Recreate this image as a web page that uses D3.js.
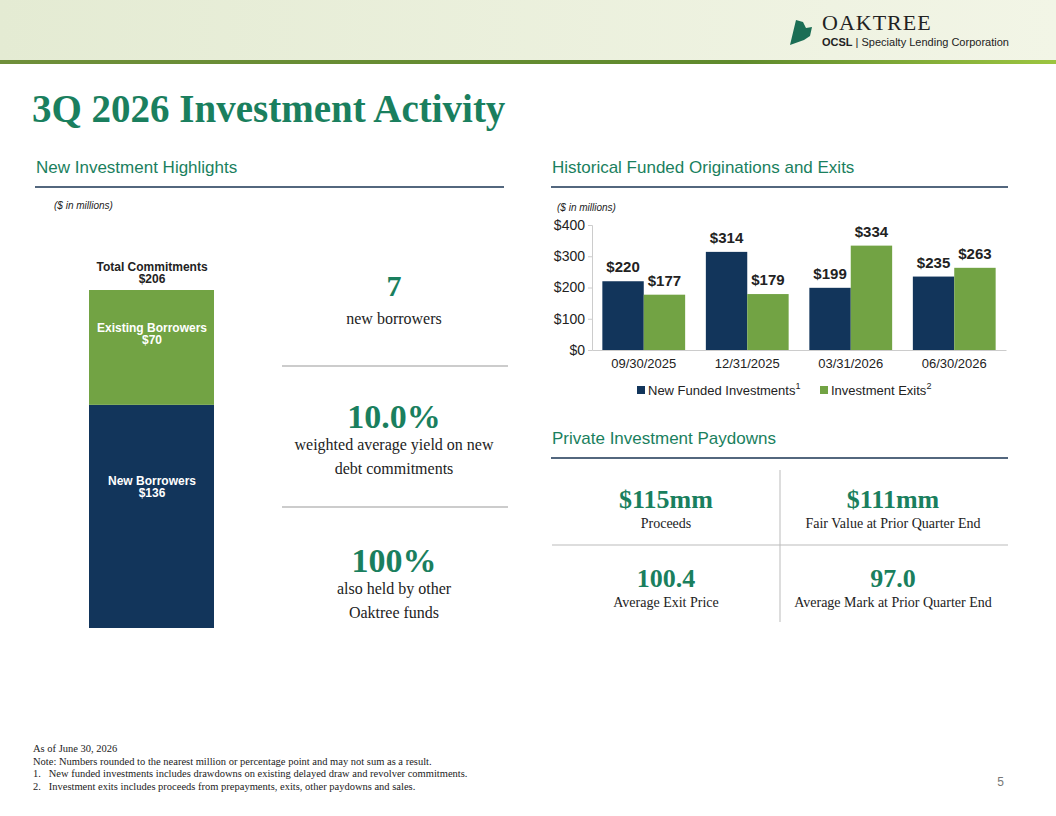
<!DOCTYPE html>
<html><head><meta charset="utf-8">
<script src="https://cdn.jsdelivr.net/npm/d3@7"></script>
<style>body{margin:0;background:#fff}svg{display:block}</style>
</head><body>
<svg id="c" width="1056" height="816"></svg>
<script>
const quarters=["09/30/2025","12/31/2025","03/31/2026","06/30/2026"];
const newFunded=[220,314,199,235];
const exits=[177,179,334,263];
const yTicks=[0,100,200,300,400];
const stackLabels=["New Borrowers","Existing Borrowers"];
const stackValues=[136,70];
const totalCommit=206;
const navy="#12355B", green="#72A344", teal="#1A7F5E";
const svg=d3.select("#c");
const F="Arial, Liberation Sans, sans-serif", S="Liberation Serif, Times New Roman, serif";
const g0=svg.append("defs").append("linearGradient").attr("id","bg");
g0.append("stop").attr("offset","0").attr("stop-color","#e4ebd3");
g0.append("stop").attr("offset","1").attr("stop-color","#f2f5e6");
svg.append("rect").attr("width",1056).attr("height",60).attr("fill","url(#bg)");
const g1=svg.select("defs").append("linearGradient").attr("id","gb");
g1.append("stop").attr("offset","0").attr("stop-color","#6f8f3a");
g1.append("stop").attr("offset","0.7").attr("stop-color","#5f8a2c");
g1.append("stop").attr("offset","1").attr("stop-color","#9cc540");
svg.append("rect").attr("y",60).attr("width",1056).attr("height",4).attr("fill","url(#gb)");
svg.append("path").attr("d","M790,45 L796,20 L803,22 L806,28 L812,27 L810,36 L804,40 Z").attr("fill","#1b6e55");
svg.append("text").attr("x",822).attr("y",30).attr("font-family",S).attr("font-size",22).attr("fill","#222").attr("letter-spacing",1).text("OAKTREE");
svg.append("text").attr("x",822).attr("y",46).attr("font-family",F).attr("font-size",11).attr("fill","#222").html("<tspan font-weight='bold'>OCSL</tspan> | Specialty Lending Corporation");
svg.append("text").attr("x",32).attr("y",122).attr("font-family",S).attr("font-weight","bold").attr("font-size",39).attr("fill",teal).text("3Q 2026 Investment Activity");
function header(x,y,w,t){svg.append("text").attr("x",x).attr("y",y).attr("font-family",F).attr("font-size",17).attr("fill",teal).text(t);
 svg.append("line").attr("x1",x-1).attr("x2",x+w).attr("y1",y+14).attr("y2",y+14).attr("stroke","#1a3553").attr("stroke-width",1.5);}
header(36,173,468,"New Investment Highlights");
header(552,173,456,"Historical Funded Originations and Exits");
header(552,444,456,"Private Investment Paydowns");
svg.append("text").attr("x",54).attr("y",209).attr("font-family",F).attr("font-size",10).attr("font-style","italic").attr("fill","#222").text("($ in millions)");
svg.append("text").attr("x",557).attr("y",211).attr("font-family",F).attr("font-size",10).attr("font-style","italic").attr("fill","#222").text("($ in millions)");
const ys=d3.scaleLinear().domain([0,totalCommit]).range([628,290]);
let acc=0;
stackValues.forEach((v,i)=>{const y0=ys(acc),y1=ys(acc+v);acc+=v;
 svg.append("rect").attr("x",89).attr("width",125).attr("y",y1).attr("height",y0-y1).attr("fill",i?green:navy);
 const t=svg.append("text").attr("y",i?y1+42:y1+80).attr("text-anchor","middle").attr("font-family",F).attr("font-weight","bold").attr("font-size",12).attr("fill","#fff");
 t.append("tspan").attr("x",152).text(stackLabels[i]);t.append("tspan").attr("x",152).attr("dy",12).text("$"+v);});
const tt=svg.append("text").attr("text-anchor","middle").attr("font-family",F).attr("font-weight","bold").attr("font-size",12).attr("fill","#222");
tt.append("tspan").attr("x",152).attr("y",271).text("Total Commitments");tt.append("tspan").attr("x",152).attr("dy",12).text("$"+totalCommit);
function big(x,y,v,lines,fs){svg.append("text").attr("x",x).attr("y",y).attr("text-anchor","middle").attr("font-family",S).attr("font-weight","bold").attr("font-size",fs).attr("fill",teal).text(v);
 lines.forEach((l,i)=>svg.append("text").attr("x",x).attr("y",y+28+i*24-(fs>30?6:0)).attr("text-anchor","middle").attr("font-family",S).attr("font-size",16).attr("fill","#222").text(l));}
big(394,296,"7",["new borrowers"],30);
big(394,428,"10.0%",["weighted average yield on new","debt commitments"],34);
big(394,572,"100%",["also held by other","Oaktree funds"],34);
[366,507].forEach(y=>svg.append("line").attr("x1",282).attr("x2",508).attr("y1",y).attr("y2",y).attr("stroke","#999"));
const x0=d3.scaleBand().domain(quarters).range([592,1006]).paddingInner(0.2).paddingOuter(0.1);
const x1=d3.scaleBand().domain([0,1]).range([0,x0.bandwidth()]);
const y=d3.scaleLinear().domain([0,400]).range([350,225]);
const ax=svg.append("g").attr("transform","translate(592,0)").call(d3.axisLeft(y).tickValues(yTicks).tickFormat(d=>"$"+d).tickSize(4));
ax.selectAll("text").attr("font-family",F).attr("font-size",14).attr("fill","#222");
ax.selectAll("line,path").attr("stroke","#ccc");
const bx=svg.append("g").attr("transform","translate(0,350)").call(d3.axisBottom(x0).tickSize(0).tickPadding(9));
bx.select("path").attr("stroke","#ccc");
bx.selectAll("text").attr("font-family",F).attr("font-size",13).attr("fill","#222");
[newFunded,exits].forEach((arr,s)=>arr.forEach((v,i)=>{
 const bxp=x0(quarters[i])+x1(s);
 svg.append("rect").attr("x",bxp).attr("width",x1.bandwidth()).attr("y",y(v)).attr("height",350-y(v)).attr("fill",s?green:navy);
 svg.append("text").attr("x",bxp+x1.bandwidth()/2).attr("y",y(v)-9).attr("text-anchor","middle").attr("font-family",F).attr("font-weight","bold").attr("font-size",15).attr("fill","#222").text("$"+v);}));
const lg=svg.append("g").attr("font-family",F).attr("font-size",13).attr("fill","#222");
lg.append("rect").attr("x",637).attr("y",386).attr("width",8).attr("height",8).attr("fill",navy);
lg.append("text").attr("x",648).attr("y",395).html("New Funded Investments<tspan dy='-6' font-size='9'>1</tspan>");
lg.append("rect").attr("x",820).attr("y",386).attr("width",8).attr("height",8).attr("fill",green);
lg.append("text").attr("x",831).attr("y",395).html("Investment Exits<tspan dy='-6' font-size='9'>2</tspan>");
svg.append("line").attr("x1",780).attr("x2",780).attr("y1",470).attr("y2",622).attr("stroke","#bbb");
svg.append("line").attr("x1",552).attr("x2",1008).attr("y1",545).attr("y2",545).attr("stroke","#bbb");
[[666,508,"$115mm","Proceeds"],[893,508,"$111mm","Fair Value at Prior Quarter End"],[666,587,"100.4","Average Exit Price"],[893,587,"97.0","Average Mark at Prior Quarter End"]].forEach(d=>{
 svg.append("text").attr("x",d[0]).attr("y",d[1]).attr("text-anchor","middle").attr("font-family",S).attr("font-weight","bold").attr("font-size",26).attr("fill",teal).text(d[2]);
 svg.append("text").attr("x",d[0]).attr("y",d[1]+20).attr("text-anchor","middle").attr("font-family",S).attr("font-size",14).attr("fill","#222").text(d[3]);});
["As of June 30, 2026","Note: Numbers rounded to the nearest million or percentage point and may not sum as a result.","1.   New funded investments includes drawdowns on existing delayed draw and revolver commitments.","2.   Investment exits includes proceeds from prepayments, exits, other paydowns and sales."].forEach((t,i)=>
 svg.append("text").attr("x",33).attr("y",752+i*12.5).attr("font-family",S).attr("font-size",10.5).attr("fill","#222").attr("xml:space","preserve").style("white-space","pre").text(t));
svg.append("text").attr("x",1004).attr("y",786).attr("text-anchor","end").attr("font-family",F).attr("font-size",12).attr("fill","#777").text("5");
</script></body></html>
